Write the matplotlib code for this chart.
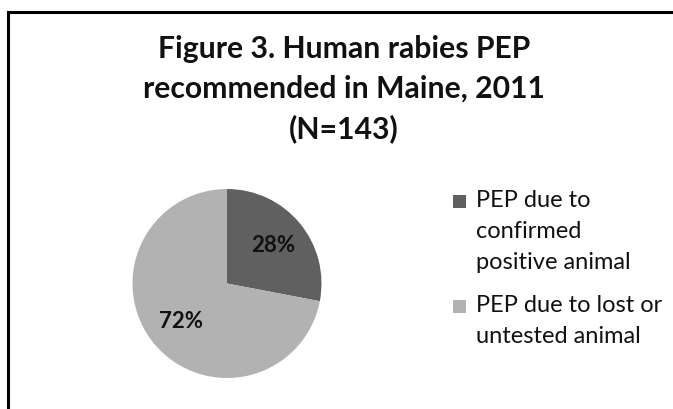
import matplotlib
matplotlib.use('Agg')
import matplotlib.pyplot as plt
from matplotlib.lines import Line2D
from matplotlib.patches import Rectangle

# Data
labels = ['PEP due to\nconfirmed\npositive animal', 'PEP due to lost or\nuntested animal']
values = [28, 72]
colors = ['#606060', '#b2b2b2']
title_lines = ['Figure 3. Human rabies PEP', 'recommended in Maine, 2011', '(N=143)']

plt.rcParams['font.family'] = ['Lato', 'DejaVu Sans']

W, H = 673, 409
fig = plt.figure(figsize=(W / 100, H / 100), dpi=100)

# frame lines (top and left, chart area border)
fig.add_artist(Line2D([8 / W, 1.0], [1 - 12 / H, 1 - 12 / H], color='black', lw=2.2))
fig.add_artist(Line2D([8 / W, 8 / W], [0, 1 - 12 / H], color='black', lw=2.2))

# title, one line at a time (40 px apart)
for i, line in enumerate(title_lines):
    fig.text(344 / W, 1 - (58 + 40 * i) / H, line, ha='center', va='baseline',
             fontsize=21.7, fontweight='bold', color='#111111')

# pie
ax = fig.add_axes([(227 - 94.5) / W, 31 / H, 189 / W, 189 / H])
wedges, texts, autotexts = ax.pie(values, colors=colors, startangle=90, counterclock=False,
                                  autopct='%d%%', pctdistance=0.63, radius=1,
                                  textprops=dict(fontsize=16, fontweight='bold', color='#111111'))
ax.set_xlim(-1, 1)
ax.set_ylim(-1, 1)
ax.set_aspect('auto')

# legend, drawn by hand so the square sits on the first line
entry_base = [207, 312]
for lab, col, yb in zip(labels, colors, entry_base):
    fig.add_artist(Rectangle((453 / W, 1 - (yb + 1) / H), 13 / W, 13 / H,
                             transform=fig.transFigure, facecolor=col, edgecolor='none'))
    for j, part in enumerate(lab.split('\n')):
        fig.text(476 / W, 1 - (yb + 31 * j) / H, part, ha='left', va='baseline',
                 fontsize=17, color='#111111')

fig.savefig('out.png', dpi=100)
